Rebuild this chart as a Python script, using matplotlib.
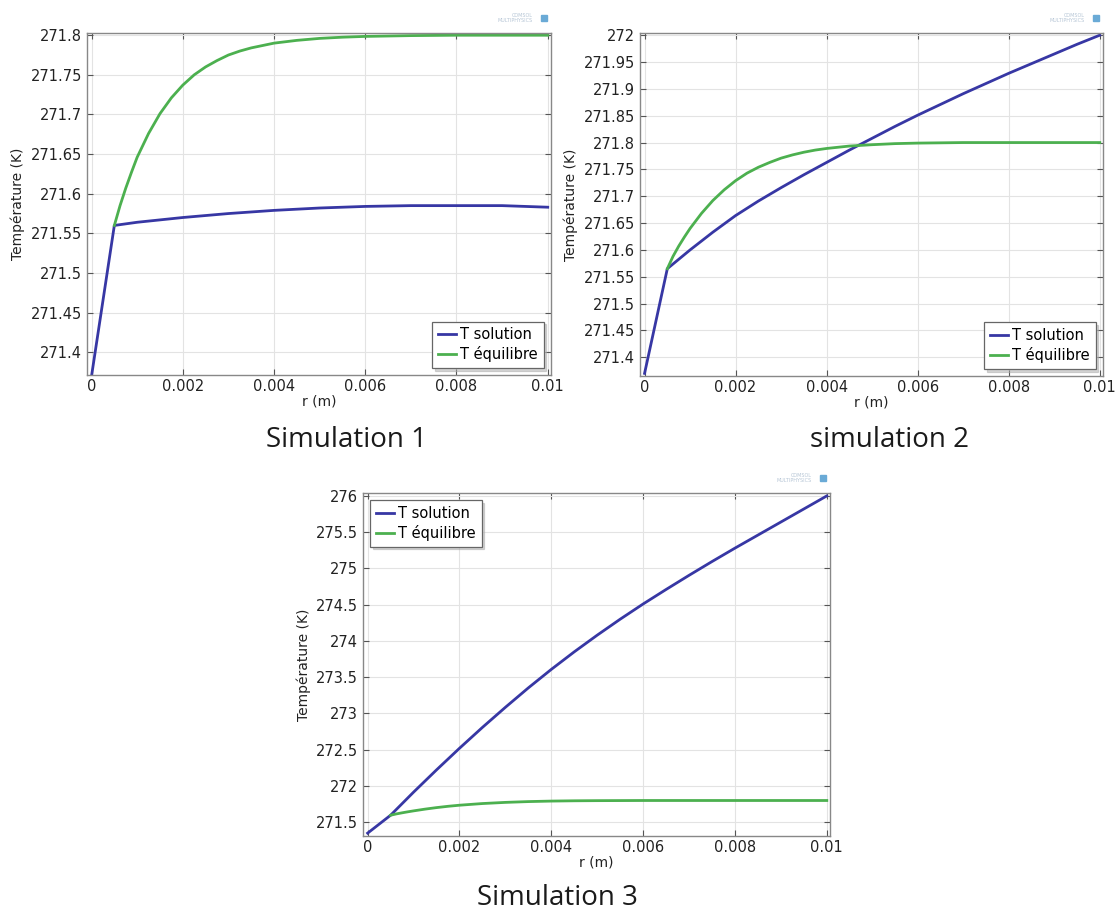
import numpy as np
import matplotlib
matplotlib.use("Agg")
import matplotlib.pyplot as plt
from matplotlib.ticker import FuncFormatter, MultipleLocator

# --- donnees ---
r1_sol = [0, 0.0005, 0.001, 0.002, 0.003, 0.004, 0.005, 0.006, 0.007, 0.008, 0.009, 0.01]
T1_sol = [271.37, 271.560, 271.564, 271.570, 271.575, 271.579, 271.582, 271.584, 271.585, 271.585, 271.585, 271.583]
r1_eq = [0.0005, 0.000625, 0.00075, 0.000875, 0.001, 0.00125, 0.0015, 0.00175, 0.002, 0.00225, 0.0025,
         0.00275, 0.003, 0.00325, 0.0035, 0.00375, 0.004, 0.0045, 0.005, 0.0055, 0.006, 0.007,
         0.008, 0.009, 0.01]
T1_eq = [271.560, 271.585, 271.607, 271.627, 271.646, 271.676, 271.701, 271.721, 271.737, 271.750, 271.760,
         271.768, 271.775, 271.780, 271.784, 271.787, 271.790, 271.7935, 271.796, 271.7975, 271.7985, 271.7995,
         271.800, 271.800, 271.800]

r2_sol = [0, 0.0005, 0.001, 0.0015, 0.002, 0.0025, 0.003, 0.0035, 0.004, 0.0045, 0.005,
          0.0055, 0.006, 0.0065, 0.007, 0.0075, 0.008, 0.0085, 0.009, 0.0095, 0.01]
T2_sol = [271.37, 271.565, 271.600, 271.633, 271.664, 271.691, 271.716, 271.740, 271.763, 271.786, 271.808,
          271.830, 271.851, 271.871, 271.891, 271.910, 271.929, 271.947, 271.965, 271.983, 272.000]
r2_eq = [0.0005, 0.000625, 0.00075, 0.000875, 0.001, 0.00125, 0.0015, 0.00175, 0.002, 0.00225, 0.0025,
         0.00275, 0.003, 0.00325, 0.0035, 0.00375, 0.004, 0.0045, 0.005, 0.0055, 0.006, 0.007,
         0.008, 0.009, 0.01]
T2_eq = [271.565, 271.588, 271.607, 271.624, 271.640, 271.668, 271.692, 271.712, 271.729, 271.743, 271.754,
         271.763, 271.771, 271.777, 271.782, 271.786, 271.789, 271.7935, 271.796, 271.798, 271.799, 271.800,
         271.800, 271.800, 271.800]

r3_sol = [0, 0.0005, 0.001, 0.0015, 0.002, 0.0025, 0.003, 0.0035, 0.004, 0.0045, 0.005,
          0.0055, 0.006, 0.0065, 0.007, 0.0075, 0.008, 0.0085, 0.009, 0.0095, 0.01]
T3_sol = [271.35, 271.597, 271.915, 272.222, 272.520, 272.808, 273.085, 273.353, 273.608, 273.850, 274.080,
          274.300, 274.510, 274.710, 274.905, 275.095, 275.280, 275.460, 275.640, 275.820, 276.000]
r3_eq = [0.0005, 0.000625, 0.00075, 0.000875, 0.001, 0.00125, 0.0015, 0.00175, 0.002, 0.0025, 0.003,
         0.0035, 0.004, 0.0045, 0.005, 0.006, 0.007, 0.008, 0.009, 0.01]
T3_eq = [271.597, 271.615, 271.630, 271.644, 271.657, 271.681, 271.702, 271.720, 271.735, 271.758, 271.774,
         271.785, 271.792, 271.796, 271.798, 271.800, 271.800, 271.800, 271.800, 271.800]

noms = ["T solution", "T \u00e9quilibre"]
legendes = ["Simulation 1", "simulation 2", "Simulation 3"]

bleu = "#3737a4"
vert = "#4cb04f"

fig = plt.figure(figsize=(11.15, 9.13), dpi=100)

panneaux = [
    ([0.0780, 0.5890, 0.4161, 0.3746], r1_sol, T1_sol, r1_eq, T1_eq, (271.371, 271.8025), 0.05, "lower right"),
    ([0.5740, 0.5881, 0.4152, 0.3757], r2_sol, T2_sol, r2_eq, T2_eq, (271.365, 272.004), 0.05, "lower right"),
    ([0.3256, 0.0843, 0.4188, 0.3757], r3_sol, T3_sol, r3_eq, T3_eq, (271.31, 276.04), 0.5, "upper left"),
]
# centre des titres en pixels (x, y depuis le haut)
pos_titres = [(346, 440), (890, 440), (557, 898)]

fmt = FuncFormatter(lambda v, p: "%g" % round(v, 6))

for i, (pos, rs, ts, re, te, ylim, pas, loc) in enumerate(panneaux):
    ax = fig.add_axes(pos)
    ax.plot(rs, ts, color=bleu, lw=2.0, label=noms[0], solid_joinstyle="round")
    ax.plot(re, te, color=vert, lw=2.0, label=noms[1], solid_joinstyle="round")
    ax.set_xlim(-0.0001, 0.01007)
    ax.set_ylim(*ylim)
    ax.xaxis.set_major_locator(MultipleLocator(0.002))
    ax.yaxis.set_major_locator(MultipleLocator(pas))
    ax.xaxis.set_major_formatter(fmt)
    ax.yaxis.set_major_formatter(fmt)
    ax.grid(True, color="#e3e3e3", lw=0.8)
    ax.tick_params(direction="in", top=True, right=True, length=4, width=0.8,
                   color="#555555", labelsize=10.5, labelcolor="#222222")
    ax.tick_params(axis="x", pad=3)
    for s in ax.spines.values():
        s.set_color("#888888")
        s.set_linewidth(1.0)
    ax.set_xlabel("r (m)", fontsize=10, labelpad=0, color="#222222")
    ax.set_ylabel("Temp\u00e9rature (K)", fontsize=10, labelpad=4, color="#222222")
    leg = ax.legend(loc=loc, fontsize=10.5, fancybox=False, shadow={"color": "#aaaaaa"},
                    framealpha=1, edgecolor="#666666", handlelength=1.2, handletextpad=0.3,
                    borderpad=0.4, labelspacing=0.25)
    leg.get_frame().set_linewidth(0.9)
    # petit logo en haut a droite
    ax.text(0.96, 1.03, "COMSOL\nMULTIPHYSICS", transform=ax.transAxes, fontsize=3.5,
            color="#b5c5d5", ha="right", va="bottom", linespacing=0.9)
    ax.plot([0.985], [1.045], transform=ax.transAxes, marker="s", ms=5,
            color="#6aaad6", clip_on=False)

for txt, (px, py) in zip(legendes, pos_titres):
    fig.text(px / 1115, 1 - py / 913, txt, ha="center", va="center",
             fontsize=20, family="Open Sans", color="#1a1a1a")

fig.savefig("out.png", dpi=100)
